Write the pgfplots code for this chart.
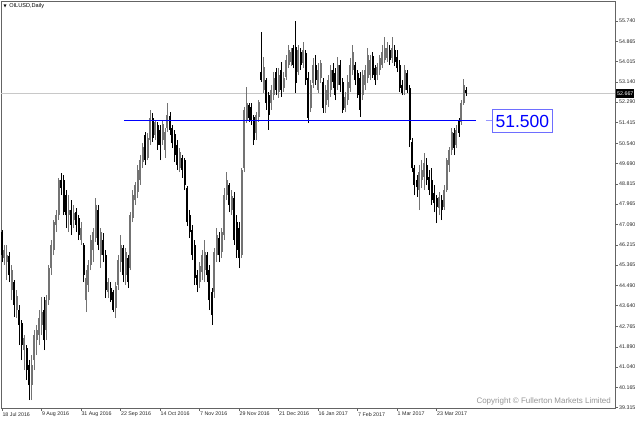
\documentclass[border=0pt]{standalone}
\usepackage{pgfplots}
\pgfplotsset{compat=1.18}
\usepackage{pgfplotstable}
\usepackage{fontspec}
\setmainfont{Liberation Sans}
\newfontfamily\djv{DejaVu Sans}
\definecolor{bullc}{RGB}{115,115,115}
\definecolor{framec}{RGB}{100,100,100}
\definecolor{pricec}{RGB}{200,200,200}
\definecolor{copyc}{RGB}{150,150,150}
\definecolor{boxc}{RGB}{110,110,255}
\definecolor{dashc}{RGB}{150,150,255}

\pgfplotstableread{
i o h l c
1 45.66 46.22 45.37 46.00
2 45.49 46.22 44.73 45.79
4 44.30 45.37 43.88 45.15
6 43.45 44.30 43.11 44.05
9 41.75 42.39 40.90 42.26
12 40.26 41.54 39.63 41.11
13 41.33 42.60 40.90 42.39
14 42.18 42.82 41.54 42.60
15 42.39 43.45 41.96 43.11
16 42.82 44.01 42.39 43.37
18 42.60 44.09 42.18 43.88
19 43.88 45.37 43.67 45.24
20 45.24 46.43 44.94 46.22
21 46.00 47.28 45.79 47.19
22 47.07 47.70 46.77 47.49
23 47.49 49.07 47.28 48.98
27 47.49 48.34 46.77 47.70
29 47.28 47.92 46.94 47.58
32 46.43 47.19 46.22 46.94
34 43.88 45.15 43.37 44.81
35 44.52 45.58 44.22 45.37
36 45.37 46.64 45.15 46.43
37 46.00 46.94 45.49 46.77
38 46.51 48.21 46.34 47.92
40 45.79 46.94 45.24 46.77
43 44.22 44.81 43.96 44.64
46 43.54 44.64 43.11 44.47
47 44.52 45.79 44.30 45.58
48 45.49 46.64 45.07 46.22
50 44.94 46.09 44.52 45.92
52 45.24 47.62 45.15 47.49
53 47.36 48.55 47.19 48.34
54 48.13 48.90 47.92 48.77
55 48.47 49.62 48.21 49.41
56 48.98 50.04 48.77 49.83
57 49.75 50.55 49.49 50.38
59 49.92 50.98 49.83 50.77
60 50.68 51.96 50.47 51.62
62 50.89 51.53 50.68 51.45
65 50.68 51.53 50.47 51.36
66 50.26 51.19 49.92 51.02
67 51.19 52.25 51.02 51.74
72 49.49 50.34 49.32 50.17
80 44.64 45.49 44.39 45.32
81 45.07 46.00 44.73 45.79
82 45.15 46.43 44.64 45.92
86 44.22 46.09 43.96 45.92
87 45.79 46.94 45.49 46.64
89 45.92 46.94 45.66 46.77
90 46.64 48.64 46.43 48.34
91 48.34 49.32 48.13 48.98
93 47.70 48.55 47.49 48.30
97 45.79 49.49 45.66 49.41
98 49.49 52.08 49.32 51.96
99 51.53 52.93 51.40 52.25
103 50.98 51.87 50.68 51.74
104 51.66 52.38 51.45 52.30
106 52.81 54.21 52.68 53.78
109 52.25 53.02 51.96 52.81
110 52.59 53.57 52.38 53.32
112 52.72 53.74 52.47 53.44
114 52.89 53.57 52.72 53.32
115 53.36 54.29 53.23 54.08
116 53.87 54.72 53.74 54.51
117 54.00 54.59 53.83 54.42
120 53.57 54.72 53.44 54.51
122 53.95 54.85 53.74 54.51
125 52.04 53.23 51.87 53.02
126 53.10 54.17 52.89 53.87
128 52.81 53.95 52.68 53.66
129 53.32 54.08 53.10 53.95
131 52.17 53.02 51.83 52.81
132 52.38 53.44 52.08 53.23
133 52.81 53.87 52.51 53.66
136 53.02 54.21 52.81 53.87
139 52.04 52.72 51.87 52.51
140 52.38 53.44 52.17 53.15
141 52.89 54.17 52.72 53.87
142 53.66 54.72 53.44 54.42
146 52.59 53.66 52.38 53.44
147 53.02 53.87 52.81 53.66
148 53.32 54.59 53.10 54.29
149 53.44 54.29 53.23 54.08
152 53.44 53.95 53.23 53.78
153 53.66 54.29 53.44 54.17
154 53.87 54.72 53.74 54.42
155 54.08 55.06 53.95 54.59
156 54.17 54.85 54.00 54.59
158 54.17 55.06 53.95 54.59
163 52.81 53.87 52.59 53.66
169 48.55 49.62 47.70 49.32
170 48.98 49.83 48.64 49.41
171 49.11 50.13 48.55 49.70
177 47.79 48.47 47.49 48.26
179 47.83 48.77 47.70 48.55
180 48.55 49.92 48.47 49.83
181 49.62 50.38 49.32 50.26
182 50.26 51.19 50.04 51.02
184 50.47 51.32 50.34 51.11
186 51.45 52.38 51.32 52.25
187 52.25 53.27 52.17 53.02
}\bull

\pgfplotstableread{
i o h l c
0 46.77 46.85 45.49 45.79
3 45.75 45.92 44.64 44.94
5 44.64 44.73 43.16 43.67
7 43.45 43.67 41.96 42.82
8 42.90 43.03 41.33 41.96
10 41.84 41.96 40.48 40.90
11 41.11 41.33 39.63 40.26
17 43.45 44.01 41.75 42.18
24 48.98 49.28 48.34 48.64
25 48.98 49.19 47.49 47.62
26 48.34 48.55 46.94 47.49
28 47.70 48.13 46.64 47.07
30 47.62 47.79 46.77 47.07
31 47.36 47.49 46.43 46.64
33 46.22 46.30 44.64 44.94
39 47.70 47.92 46.00 46.22
41 46.43 46.73 45.49 45.79
42 45.79 46.00 43.96 44.30
44 44.39 44.64 43.79 43.88
45 44.22 44.30 43.37 43.45
49 46.09 46.22 44.64 44.94
51 45.66 45.79 44.39 44.64
58 50.89 51.02 49.62 49.83
61 51.62 51.83 50.60 50.77
63 51.32 51.45 50.26 50.47
64 51.11 51.32 49.83 50.47
68 51.70 51.87 50.89 51.11
69 51.19 51.32 50.34 50.55
70 50.94 51.11 49.75 50.04
71 50.47 50.68 49.41 49.62
73 49.92 50.04 49.07 49.41
74 49.83 49.92 48.55 48.77
75 48.64 48.73 47.02 47.19
76 47.49 47.70 46.51 46.77
77 46.85 47.07 45.58 45.79
78 46.22 46.43 44.52 44.81
79 44.94 45.15 44.22 44.52
83 45.79 45.92 44.64 44.94
84 45.15 45.37 43.45 43.88
85 44.22 44.39 42.82 43.24
88 46.51 46.77 45.49 45.79
92 48.77 48.85 47.62 47.92
94 48.21 48.47 46.22 46.43
95 47.19 47.49 45.66 46.00
96 46.94 47.19 45.24 45.66
100 52.17 52.25 51.45 51.62
101 52.08 52.25 51.32 51.53
102 51.66 51.74 50.47 50.68
105 53.57 55.27 53.15 53.23
107 53.23 53.32 51.96 52.25
108 52.59 52.72 51.11 51.74
111 53.57 53.74 52.59 52.81
113 53.66 54.00 52.51 52.81
118 54.59 54.72 53.74 53.87
119 54.63 55.74 52.68 53.10
121 54.42 54.59 53.66 53.87
123 54.38 54.51 53.02 53.23
124 53.32 53.57 51.40 51.62
127 53.87 54.29 53.02 53.23
130 53.15 53.32 51.83 52.04
134 53.66 53.95 52.89 53.15
135 53.53 53.74 52.38 52.59
137 53.87 54.08 52.72 53.02
138 53.15 53.32 51.83 51.96
143 53.87 54.00 53.02 53.23
144 53.53 53.66 52.47 52.59
145 53.32 53.57 51.66 51.96
150 54.25 54.42 53.32 53.44
151 53.74 53.87 53.02 53.23
157 54.51 54.72 53.87 54.08
159 54.51 54.72 53.83 54.00
160 54.21 54.51 53.57 53.74
161 53.87 54.08 52.72 52.89
162 53.02 53.23 52.59 52.68
164 53.53 53.66 52.68 52.81
165 52.89 53.02 50.38 50.68
166 50.60 50.77 49.32 49.49
167 49.49 49.62 48.34 48.77
168 48.98 49.19 48.26 48.68
172 49.62 49.92 48.77 48.98
173 49.11 49.41 48.34 48.55
174 48.98 49.49 47.92 48.13
175 48.43 48.77 47.62 48.00
176 48.21 48.34 47.15 47.83
178 48.13 48.34 47.28 47.70
183 50.98 51.19 50.04 50.34
185 51.53 51.62 50.81 50.98
188 52.81 52.93 52.55 52.667
}\bear

\pgfplotsset{
  wick/.style={draw=none, no marks, forget plot,
    error bars/.cd, y dir=plus, y explicit, error mark=none,
    error bar style={line width=0.9bp, draw=#1, solid}},
  body/.style={draw=none, no marks, forget plot,
    error bars/.cd, y dir=plus, y explicit, error mark=none,
    error bar style={line width=2.0bp, draw=#1, solid}},
}

\begin{document}
\begin{tikzpicture}
\useasboundingbox (-1bp,-14bp) rectangle (639bp,408bp);
\begin{axis}[
  at={(0,0)}, anchor=south west,
  scale only axis, width=614bp, height=407bp,
  xmin=-0.405, xmax=248.18, ymin=39.29, ymax=56.59,
  axis line style={draw=framec, line width=0.8bp},
  clip mode=individual,
  xtick pos=bottom, ytick pos=right,
  yticklabel pos=right,
  tick align=outside, major tick length=3bp,
  tick style={draw=framec, line width=0.6bp},
  xtick={0,16,32,48,64,80,96,112,128,144,160,176},
  xticklabels={18 Jul 2016, 9 Aug 2016, 31 Aug 2016, 22 Sep 2016, 14 Oct 2016, 7 Nov 2016, 29 Nov 2016, 21 Dec 2016, 16 Jan 2017, 7 Feb 2017, 1 Mar 2017, 23 Mar 2017},
  ytick={55.740,54.865,54.015,53.140,52.290,51.415,50.540,49.690,48.815,47.965,47.090,46.215,45.365,44.490,43.640,42.765,41.890,41.040,40.165,39.315},
  yticklabels={55.740,54.865,54.015,53.140,52.290,51.415,50.540,49.690,48.815,47.965,47.090,46.215,45.365,44.490,43.640,42.765,41.890,41.040,40.165,39.315},
  xticklabel style={font=\fontsize{5.3bp}{6bp}\selectfont, text=black!85, anchor=north west, inner sep=0pt, xshift=0.3bp, yshift=-1bp},
  yticklabel style={font=\fontsize{5.3bp}{6bp}\selectfont, text=black!85, anchor=west, inner sep=0pt, xshift=1bp},
]
\addplot[draw=pricec, line width=0.6bp, forget plot] coordinates {(-0.405,52.667) (248.18,52.667)};

\addplot[wick=bullc] table[x=i, y=l, y error expr=\thisrow{h}-\thisrow{l}] {\bull};
\addplot[body=bullc] table[x=i, y=o, y error expr=\thisrow{c}-\thisrow{o}] {\bull};
\addplot[wick=black] table[x=i, y=l, y error expr=\thisrow{h}-\thisrow{l}] {\bear};
\addplot[body=black] table[x=i, y=c, y error expr=\thisrow{o}-\thisrow{c}] {\bear};

\addplot[draw=blue, line width=1.1bp, forget plot] coordinates {(49.4,51.5) (191.9,51.5)};
\addplot[draw=dashc, line width=0.8bp, forget plot] coordinates {(195.9,51.5) (198.7,51.5)};

\node[draw=boxc, line width=0.7bp, text=blue, font=\fontsize{17.5bp}{18bp}\selectfont,
      minimum width=59.6bp, minimum height=23.4bp, inner sep=0pt]
      at (axis cs:210.7,51.49) {51.500};
\node[fill=black, text=white, font=\fontsize{5.3bp}{6bp}\selectfont, inner sep=0.8bp,
      minimum height=9bp, anchor=west] at (axis cs:248.18,52.667) [xshift=1.2bp] {52.667};
\node[text=copyc, font=\fontsize{8bp}{9bp}\selectfont, anchor=east, inner sep=0pt]
      at (axis cs:246.6,39.56) {Copyright © Fullerton Markets Limited};
\node[anchor=west, inner sep=0pt, font=\fontsize{5.6bp}{6bp}\selectfont]
      at (axis cs:0.6,56.38) {{\djv\fontsize{4bp}{5bp}\selectfont ▼}\hspace{2.5bp}OILUSD,Daily};
\end{axis}
\end{tikzpicture}
\end{document}
